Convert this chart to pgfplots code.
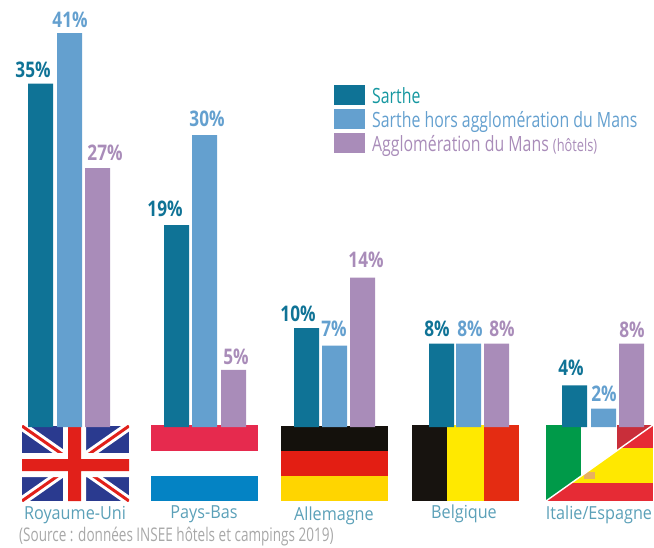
\documentclass[border=0pt]{standalone}
\usepackage{pgfplots}
\pgfplotsset{compat=1.18}
\usepackage{fontspec}
\setmainfont[FakeStretch=0.80]{Open Sans}
\newfontfamily\catfont[FakeStretch=0.90]{Open Sans}
\newfontfamily\legfont[FakeStretch=0.755]{Open Sans}
\newfontfamily\srcfont[FakeStretch=0.72]{Open Sans}
\definecolor{sa}{HTML}{0F7396}
\definecolor{sb}{HTML}{64A0CF}
\definecolor{sc}{HTML}{A98CB9}
\definecolor{lt}{HTML}{5BA0B8}
\definecolor{ukb}{HTML}{2A3A8F}
\definecolor{ukr}{HTML}{E1201A}
\definecolor{nlr}{HTML}{E62A4E}
\definecolor{nlb}{HTML}{0483C4}
\definecolor{dek}{HTML}{14110C}
\definecolor{der}{HTML}{E31E13}
\definecolor{dey}{HTML}{FFD500}
\definecolor{bek}{HTML}{17130F}
\definecolor{bey}{HTML}{FFE900}
\definecolor{ber}{HTML}{E42C12}
\definecolor{itg}{HTML}{009A49}
\definecolor{itr}{HTML}{C92E3A}
\definecolor{esr}{HTML}{E62B35}
\definecolor{esy}{HTML}{FFE800}
\definecolor{ese}{HTML}{E8B060}
\definecolor{lega}{HTML}{1597A0}
\definecolor{src}{HTML}{A8A8A8}
\begin{document}
\begin{tikzpicture}[x=1pt,y=1pt]
\path[use as bounding box] (0,0) rectangle (654,547);
\begin{scope}[shift={(0,547)},y=-1pt]
% Royaume-Uni
\fill[ukb] (22,426) rectangle (129,501);
\begin{scope}
\clip (22,426) rectangle (129,501);
\draw[white,line width=9pt] (22,426)--(129,501) (22,501)--(129,426);
\draw[ukr,line width=3pt] (22,426)--(129,501) (22,501)--(129,426);
\fill[white] (63,426) rectangle (86,501) (22,453) rectangle (129,477);
\fill[ukr] (68,426) rectangle (81,501) (22,459) rectangle (129,471);
\end{scope}
% Pays-Bas
\fill[nlr] (151,425) rectangle (258,451);
\fill[nlb] (151,476) rectangle (258,501);
% Allemagne
\fill[dek] (281,426) rectangle (388,451);
\fill[der] (281,451) rectangle (388,476);
\fill[dey] (281,476) rectangle (388,501);
% Belgique
\fill[bek] (412,425) rectangle (447,501);
\fill[bey] (447,425) rectangle (484,501);
\fill[ber] (484,425) rectangle (519,501);
% Italie/Espagne
\fill[itg] (546,425) rectangle (581,501);
\fill[itr] (617,425) rectangle (653,501);
\begin{scope}
\clip (546,501)--(653,425)--(653,501)--cycle;
\fill[esr] (546,425) rectangle (653,501);
\fill[esy] (546,448) rectangle (653,483);
\fill[ese] (584,472) rectangle (595,479);
\end{scope}
\draw[white,line width=1.4pt] (546,501)--(653,425);
\end{scope}
\begin{axis}[
  at={(0,0)},anchor=south west,
  scale only axis,
  x=1pt,y=9.7pt,
  xmin=0,xmax=654,ymin=-12.371,ymax=44.021,
  hide axis,clip=false,
  ybar,bar width=25pt,bar shift=0pt,
]
\addplot[fill=sa,draw=none] coordinates {(40.5,35.4) (176.5,20.8) (306.5,10.2) (441.5,8.6) (574.5,4.3)};
\addplot[fill=sb,draw=none] coordinates {(69.5,40.6) (204.5,30.1) (334.5,8.4) (468.5,8.6) (603.5,1.9)};
\addplot[fill=sc,draw=none] coordinates {(97.5,26.7) (233.5,5.9) (362.5,15.4) (496.5,8.6) (631.5,8.6)};
\end{axis}
\begin{scope}[shift={(0,547)},y=-1pt]
\fill[sa] (334,85) rectangle (365,105);
\fill[sb] (334,109) rectangle (365,129);
\fill[sc] (334,133) rectangle (365,153);
\tikzset{every node/.style={inner sep=0pt,font=\legfont\fontsize{21}{21}\selectfont}}
\node[anchor=base west,text=lega] at (372,104) {Sarthe};
\node[anchor=base west,text=sb] at (372,128) {Sarthe hors agglomération du Mans};
\node[anchor=base west,text=sc] at (372,152) {Agglomération du Mans {\fontsize{17}{17}\selectfont(hôtels)}};
\tikzset{v/.style={anchor=base,font=\rmfamily\fontsize{21.5}{22}\selectfont\bfseries}}
\node[v,text=sa] at (33,78) {35\%};
\node[v,text=sb] at (70,28) {41\%};
\node[v,text=sc] at (105,161) {27\%};
\node[v,text=sa] at (165,217) {19\%};
\node[v,text=sb] at (207,127) {30\%};
\node[v,text=sc] at (236,365) {5\%};
\node[v,text=sa] at (298,322) {10\%};
\node[v,text=sb] at (334,337) {7\%};
\node[v,text=sc] at (366,268) {14\%};
\node[v,text=sa] at (437,337) {8\%};
\node[v,text=sb] at (470,337) {8\%};
\node[v,text=sc] at (502,337) {8\%};
\node[v,text=sa] at (571,376) {4\%};
\node[v,text=sb] at (604,402) {2\%};
\node[v,text=sc] at (632,338) {8\%};
\tikzset{c/.style={anchor=base,text=lt,font=\catfont\fontsize{18}{18}\selectfont}}
\node[c] at (75,519) {Royaume-Uni};
\node[c] at (204,518) {Pays-Bas};
\node[c] at (334,520) {Allemagne};
\node[c] at (464,518) {Belgique};
\node[c] at (599,519) {Italie/Espagne};
\node[anchor=base west,text=src,font=\srcfont\fontsize{18.8}{19}\selectfont] at (19,541.5) {(Source : données INSEE hôtels et campings 2019)};
\end{scope}
\end{tikzpicture}
\end{document}
